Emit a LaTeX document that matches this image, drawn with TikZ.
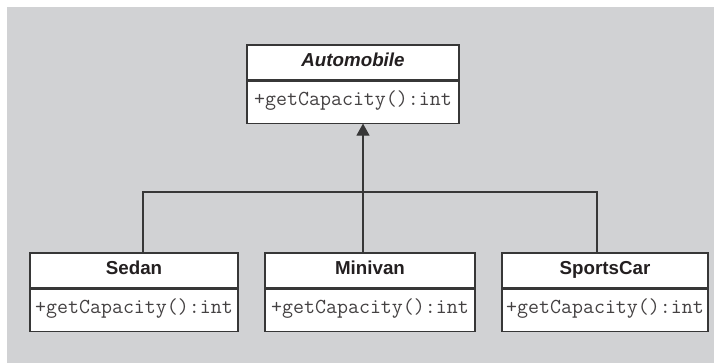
\documentclass[tikz,border=0pt]{standalone}
\usepackage{fontspec}
\setmainfont{Liberation Sans}
\usetikzlibrary{positioning,calc,arrows.meta}
\definecolor{umlbg}{RGB}{209,210,212}
\definecolor{umlline}{RGB}{55,55,55}
\definecolor{umltext}{RGB}{35,31,32}
\begin{document}
\begin{tikzpicture}[x=0.03cm,y=0.03cm,
    namebox/.style={draw=umlline,line width=0.9pt,fill=white,inner sep=0pt,
      minimum width=6.24cm,minimum height=1.05cm,text=umltext,
      text height=1.38ex,text depth=0pt,
      font=\fontsize{16}{19}\selectfont\bfseries},
    methodbox/.style={draw=umlline,line width=0.9pt,fill=white,inner sep=0pt,
      minimum width=6.24cm,minimum height=1.26cm,text=umltext!85,
      text height=1.6ex,text depth=0.5ex,
      font=\fontsize{18.2}{21}\selectfont\ttfamily},
    link/.style={draw=umlline,line width=0.9pt},
    inherit/.style={link,-{Triangle[length=3.6mm,width=3.9mm]}}]
  \useasboundingbox (0,0) rectangle (721,363);
  \fill[umlbg] (7,0) rectangle (714,356);
  % Base class
  \node[namebox,minimum width=6.36cm] (auto) at (353,300.5) {\itshape Automobile};
  \node[methodbox,minimum width=6.36cm,below=0pt of auto] (autom) {+getCapacity():int};
  % Subclasses
  \node[namebox] (sedan) at (134,92.5) {Sedan};
  \node[methodbox,below=0pt of sedan] (sedanm) {+getCapacity():int};
  \node[namebox,minimum width=6.3cm] (minivan) at (370,92.5) {Minivan};
  \node[methodbox,minimum width=6.3cm,below=0pt of minivan] (minivanm) {+getCapacity():int};
  \node[namebox,minimum width=6.18cm] (sports) at (605,92.5) {SportsCar};
  \node[methodbox,minimum width=6.18cm,below=0pt of sports] (sportsm) {+getCapacity():int};
  % Generalization
  \coordinate (junction) at (363,171);
  \draw[link] ($(sedan.north)+(9,0)$) |- (junction) -| ($(sports.north)+(-8,0)$);
  \draw[inherit] ($(minivan.north)+(-7,0)$) -- ($(autom.south)+(10,0)$);
\end{tikzpicture}
\end{document}
